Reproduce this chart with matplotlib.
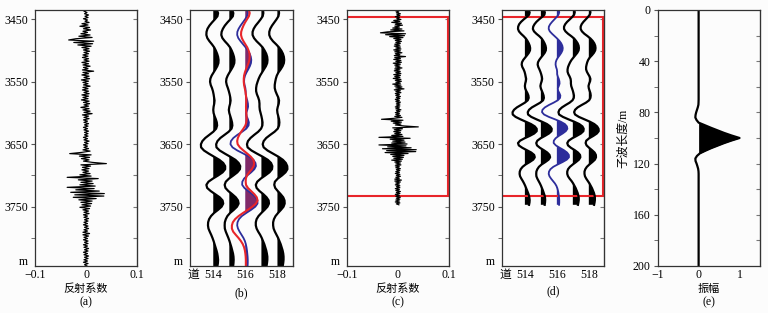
import numpy as np
import matplotlib
matplotlib.use('Agg')
import matplotlib.pyplot as plt

plt.rcParams['font.family'] = ['Liberation Serif', 'Noto Sans CJK SC']
plt.rcParams['font.size'] = 8.5

# reflectivity log, 2 m samples from 3435 m to 3845 m
refl = [
    0.003, -0.004, 0.002, -0.003, 0.005, -0.002, 0.004, -0.005, 0.003, -0.002,
    0.006, -0.008, 0.004, -0.012, 0.007, -0.005, 0.009, -0.006, 0.003, -0.010,
    0.008, -0.014, 0.012, -0.020, -0.034, 0.015, -0.024, 0.013, -0.016, 0.010,
    -0.008, 0.006, -0.005, 0.007, -0.004, 0.005, -0.006, 0.004, -0.007, 0.005,
    -0.004, 0.006, -0.008, 0.005, -0.006, 0.008, -0.005, 0.004, -0.007, 0.015,
    -0.006, 0.005, -0.008, 0.006, -0.004, 0.007, -0.009, 0.005, -0.006, 0.004,
    -0.005, 0.008, -0.006, 0.004, -0.007, 0.005, -0.004, 0.006, -0.008, 0.005,
    -0.006, 0.004, -0.009, 0.006, -0.005, 0.007, -0.004, 0.005, -0.010, 0.006,
    -0.006, 0.008, -0.004, 0.012, -0.007, 0.005, -0.004, 0.006, -0.005, 0.003,
    -0.004, 0.005, -0.003, 0.004, -0.005, 0.003, -0.004, 0.005, -0.003, 0.004,
    -0.003, 0.004, -0.005, 0.003, -0.004, 0.006, -0.003, 0.004, -0.005, 0.003,
    -0.004, 0.005, -0.006, 0.008, -0.008, -0.032, 0.010, -0.013, 0.007, -0.009,
    0.006, -0.005, 0.012, 0.040, -0.010, 0.009, -0.007, 0.006, -0.008, 0.005,
    -0.006, 0.008, -0.012, 0.010, -0.037, 0.024, -0.015, 0.012, -0.010, 0.014,
    -0.012, 0.018, -0.037, 0.016, -0.020, 0.026, -0.030, 0.036, -0.022, 0.035,
    -0.025, 0.020, -0.014, 0.012, -0.010, 0.011, -0.008, 0.009, -0.012, 0.007,
    -0.006, 0.005, -0.004, 0.006, -0.005, 0.003, -0.004, 0.005, -0.003, 0.004,
    -0.004, 0.003, -0.005, 0.004, -0.003, 0.005, -0.004, 0.003, -0.006, 0.007,
    -0.006, 0.005, -0.004, 0.003, -0.005, 0.004, -0.003, 0.004, -0.005, 0.003,
    -0.004, 0.005, -0.003, 0.004, -0.005, 0.003, -0.004, 0.005, -0.003, 0.004,
    -0.004, 0.003, -0.005, 0.004, -0.003, 0.002,
]
depth_a = np.arange(3435, 3847, 2)
depth_c = np.linspace(3435, 3747, len(refl))

# seismic traces, 5 m samples from 3435 m to 3845 m (amplitude in trace spacings)
tr514 = [0.22, 0.30, 0.26, 0.10, -0.08, -0.24, -0.36, -0.42, -0.43, -0.37,
         -0.24, -0.08, 0.06, 0.16, 0.24, 0.30, 0.33, 0.32, 0.25, 0.14,
         0.02, -0.10, -0.18, -0.20, -0.16, -0.08, -0.02, 0.02, 0.05, 0.08,
         0.06, 0.02, 0.00, 0.02, 0.08, 0.16, 0.22, 0.24, 0.18, 0.00,
         -0.25, -0.50, -0.68, -0.77, -0.76, -0.58, -0.28, 0.05, 0.38, 0.62,
         0.74, 0.74, 0.58, 0.30, -0.02, -0.30, -0.43, -0.38, -0.16, 0.12,
         0.40, 0.58, 0.62, 0.52, 0.30, 0.05, -0.14, -0.26, -0.32, -0.33,
         -0.30, -0.22, -0.13, -0.05, 0.02, 0.08, 0.14, 0.20, 0.25, 0.28,
         0.30, 0.29, 0.26]
tr515 = [0.18, 0.25, 0.22, 0.06, -0.12, -0.28, -0.40, -0.48, -0.50, -0.43,
         -0.28, -0.10, 0.05, 0.15, 0.23, 0.29, 0.32, 0.31, 0.24, 0.13,
         0.01, -0.10, -0.18, -0.20, -0.16, -0.09, -0.03, 0.02, 0.06, 0.08,
         0.05, 0.00, -0.03, 0.00, 0.06, 0.12, 0.17, 0.19, 0.14, -0.04,
         -0.30, -0.56, -0.74, -0.82, -0.80, -0.60, -0.28, 0.06, 0.38, 0.58,
         0.68, 0.66, 0.50, 0.25, -0.02, -0.22, -0.29, -0.24, -0.06, 0.18,
         0.40, 0.54, 0.58, 0.48, 0.28, 0.05, -0.12, -0.22, -0.28, -0.29,
         -0.28, -0.22, -0.14, -0.06, 0.01, 0.07, 0.13, 0.18, 0.23, 0.26,
         0.27, 0.26, 0.24]
tr516_blue = [0.12, 0.15, 0.10, -0.02, -0.16, -0.30, -0.42, -0.50, -0.51, -0.44,
              -0.30, -0.14, 0.02, 0.16, 0.27, 0.34, 0.37, 0.35, 0.28, 0.18,
              0.07, -0.02, -0.07, -0.08, -0.05, 0.00, 0.02, 0.02, 0.06, 0.12,
              0.16, 0.17, 0.12, 0.06, 0.08, 0.16, 0.22, 0.20, 0.06, -0.20,
              -0.50, -0.75, -0.90, -0.93, -0.80, -0.50, -0.12, 0.24, 0.50, 0.63,
              0.66, 0.56, 0.36, 0.12, -0.08, -0.19, -0.20, -0.06, 0.18, 0.44,
              0.64, 0.75, 0.76, 0.62, 0.36, 0.06, -0.22, -0.40, -0.49, -0.51,
              -0.46, -0.36, -0.24, -0.12, -0.03, 0.03, 0.07, 0.10, 0.12, 0.14,
              0.15, 0.15, 0.14]
tr516_red = [0.22, 0.27, 0.22, 0.10, -0.02, -0.12, -0.20, -0.26, -0.27, -0.22,
             -0.12, 0.00, 0.12, 0.20, 0.26, 0.27, 0.25, 0.20, 0.12, 0.04,
             -0.03, -0.08, -0.10, -0.10, -0.08, -0.04, 0.00, 0.03, 0.05, 0.06,
             0.05, 0.04, 0.05, 0.06, 0.07, 0.08, 0.06, 0.00, -0.12, -0.26,
             -0.38, -0.47, -0.51, -0.48, -0.34, -0.12, 0.12, 0.34, 0.50, 0.55,
             0.52, 0.40, 0.24, 0.10, 0.03, 0.02, 0.04, 0.16, 0.36, 0.56,
             0.71, 0.76, 0.66, 0.44, 0.16, -0.14, -0.42, -0.64, -0.78, -0.84,
             -0.84, -0.76, -0.60, -0.43, -0.28, -0.16, -0.08, -0.03, 0.00, 0.02,
             0.03, 0.03, 0.03]
tr517 = [0.10, 0.12, 0.08, -0.05, -0.20, -0.36, -0.48, -0.55, -0.55, -0.46,
         -0.30, -0.10, 0.08, 0.20, 0.30, 0.36, 0.38, 0.36, 0.28, 0.16,
         0.04, -0.08, -0.17, -0.24, -0.30, -0.33, -0.33, -0.28, -0.20, -0.14,
         -0.12, -0.12, -0.10, -0.05, 0.00, 0.04, 0.07, 0.06, -0.02, -0.20,
         -0.45, -0.68, -0.84, -0.90, -0.86, -0.62, -0.28, 0.08, 0.40, 0.60,
         0.68, 0.66, 0.50, 0.24, -0.04, -0.26, -0.35, -0.30, -0.12, 0.12,
         0.32, 0.45, 0.47, 0.38, 0.20, 0.00, -0.18, -0.30, -0.35, -0.35,
         -0.30, -0.20, -0.08, 0.02, 0.10, 0.18, 0.24, 0.30, 0.34, 0.37,
         0.37, 0.35, 0.32]
tr518 = [0.08, 0.10, 0.06, -0.06, -0.20, -0.34, -0.45, -0.51, -0.51, -0.43,
         -0.28, -0.08, 0.10, 0.24, 0.34, 0.40, 0.42, 0.40, 0.32, 0.20,
         0.06, -0.04, -0.10, -0.14, -0.17, -0.17, -0.12, -0.04, 0.05, 0.10,
         0.08, 0.02, -0.02, 0.00, 0.05, 0.10, 0.12, 0.10, 0.02, -0.18,
         -0.45, -0.70, -0.86, -0.92, -0.86, -0.62, -0.28, 0.06, 0.34, 0.52,
         0.61, 0.62, 0.50, 0.28, 0.02, -0.16, -0.20, -0.14, 0.02, 0.20,
         0.36, 0.44, 0.45, 0.38, 0.22, 0.04, -0.12, -0.22, -0.27, -0.27,
         -0.24, -0.16, -0.06, 0.04, 0.12, 0.20, 0.26, 0.32, 0.36, 0.38,
         0.38, 0.36, 0.33]
depth_b = np.arange(3435, 3850, 5)
depth_d = np.linspace(3435, 3747, len(tr514))

# wavelet
wl_depth = np.concatenate([[0], np.arange(70, 130, 2), [200]])
wl_amp = [0.0,
          0.0, -0.002, -0.005, -0.02, -0.04, -0.06, -0.075, -0.08, -0.05, 0.0,
          0.15, 0.30, 0.46, 0.62, 0.80, 1.00, 0.80, 0.62, 0.46, 0.30,
          0.16, 0.03, -0.04, -0.08, -0.075, -0.05, -0.03, -0.012, -0.003, 0.0,
          0.0]

box_top, box_bot = 3447, 3733

BLUE = '#2d2d9b'
RED = '#e8252a'
BG = '#fcfcfc'
DTOP, DBOT = 3435, 3845

fig = plt.figure(figsize=(7.68, 3.13), dpi=100, facecolor=BG)
W, H = 768, 313


def make_ax(x0, x1):
    return fig.add_axes([x0 / W, (H - 266) / H, (x1 - x0) / W, 256 / H], facecolor=BG)


def style_ax(ax, major, labels, minor, right_ticks):
    for s in ax.spines.values():
        s.set_color('#333333')
        s.set_linewidth(0.9)
    ax.set_yticks(major)
    ax.set_yticklabels(labels)
    ax.set_yticks(minor, minor=True)
    ax.tick_params(axis='y', which='both', direction='out', length=3, pad=2,
                   color='#555555')
    ax.tick_params(axis='x', length=0, pad=2)
    sec = ax.secondary_yaxis('right')
    sec.set_yticks(right_ticks)
    sec.set_yticklabels([])
    sec.tick_params(direction='in', length=3, color='#777777')
    sec.spines['right'].set_color('#333333')


def depth_ax(ax):
    ax.set_ylim(DBOT, DTOP)
    # "m" unit label sits just above the bottom-left corner
    style_ax(ax, [3450, 3550, 3650, 3750, DBOT - 9],
             ['3450', '3550', '3650', '3750', 'm'], [3500, 3600, 3700, 3800],
             [3450, 3500, 3550, 3600, 3650, 3700, 3750, 3800])
    ax.get_yticklines()[8].set_visible(False)


def wiggle(ax, depth, base, amp, color, lw, alpha=1.0):
    amp = np.asarray(amp)
    ax.fill_betweenx(depth, base, base + amp, where=amp > 0, interpolate=True,
                     color=color, lw=0, alpha=alpha)
    ax.plot(base + amp, depth, color=color, lw=lw)


def trace_ax(ax):
    ax.set_xlim(512.55, 518.95)
    ax.set_xticks([512.75, 514, 516, 518])
    ax.set_xticklabels(['道', '514', '516', '518'])


def refl_ax(ax):
    ax.set_xlim(-0.1, 0.1)
    ax.set_xticks([-0.1, 0, 0.1])
    ax.set_xticklabels(['\u22120.1', '0', '0.1'])


def bottom_text(ax, label, letter, y_letter=-0.142):
    if label:
        ax.text(0.5, -0.088, label, ha='center', va='center',
                transform=ax.transAxes, fontsize=8)
    ax.text(0.5, y_letter, letter, ha='center', va='center',
            transform=ax.transAxes, fontsize=8.5)


# (a)
ax = make_ax(35, 137)
ax.plot(refl, depth_a, color='k', lw=0.85)
refl_ax(ax)
depth_ax(ax)
bottom_text(ax, '反射系数', '(a)')

# (b)
ax = make_ax(190, 292.7)
for pos, tr in [(514, tr514), (515, tr515), (517, tr517), (518, tr518)]:
    wiggle(ax, depth_b, pos, tr, 'k', 1.6)
wiggle(ax, depth_b, 516, tr516_blue, BLUE, 1.3)
wiggle(ax, depth_b, 516, tr516_red, RED, 1.5, alpha=0.45)
trace_ax(ax)
depth_ax(ax)
bottom_text(ax, None, '(b)', y_letter=-0.107)

# (c)
ax = make_ax(346.7, 449)
ax.plot(refl, depth_c, color='k', lw=0.85)
ax.add_patch(plt.Rectangle((0.005, box_top), 0.99, box_bot - box_top, fill=False,
                           edgecolor=RED, lw=1.5, transform=ax.get_yaxis_transform()))
refl_ax(ax)
depth_ax(ax)
bottom_text(ax, '反射系数', '(c)')

# (d)
ax = make_ax(501.7, 604)
for pos, tr in [(514, tr514), (515, tr515), (517, tr517), (518, tr518)]:
    wiggle(ax, depth_d, pos, tr, 'k', 1.6)
wiggle(ax, depth_d, 516, tr516_blue, BLUE, 1.3)
ax.add_patch(plt.Rectangle((0.005, box_top), 0.99, box_bot - box_top, fill=False,
                           edgecolor=RED, lw=1.5, transform=ax.get_yaxis_transform()))
trace_ax(ax)
depth_ax(ax)
bottom_text(ax, None, '(d)', y_letter=-0.100)

# (e)
ax = make_ax(657.7, 760)
wl_amp = np.asarray(wl_amp)
ax.fill_betweenx(wl_depth, 0, wl_amp, where=wl_amp > 0, interpolate=True, color='k', lw=0)
ax.plot(wl_amp, wl_depth, color='k', lw=1.6)
ax.set_xlim(-1, 1.5)
ax.set_xticks([-1, 0, 1])
ax.set_xticklabels(['\u22121', '0', '1'])
ax.set_ylim(200, 0)
style_ax(ax, [0, 40, 80, 120, 160, 200], ['0', '40', '80', '120', '160', '200'],
         [20, 60, 100, 140, 180], [20, 40, 60, 80, 100, 120, 140, 160, 180])
ax.set_ylabel('子波长度/m', fontsize=8.5, labelpad=3)
bottom_text(ax, '振幅', '(e)')

fig.savefig('out.png', dpi=100, facecolor=BG)
